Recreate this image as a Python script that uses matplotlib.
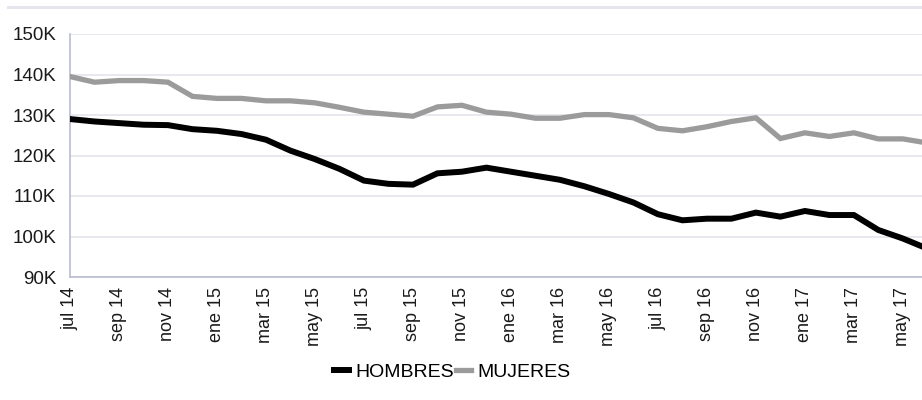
import matplotlib
matplotlib.use("Agg")
import matplotlib.pyplot as plt
from matplotlib.lines import Line2D

plt.rcParams['font.family'] = ['Liberation Sans', 'DejaVu Sans']

months = ["jul 14", "ago 14", "sep 14", "oct 14", "nov 14", "dic 14",
          "ene 15", "feb 15", "mar 15", "abr 15", "may 15", "jun 15",
          "jul 15", "ago 15", "sep 15", "oct 15", "nov 15", "dic 15",
          "ene 16", "feb 16", "mar 16", "abr 16", "may 16", "jun 16",
          "jul 16", "ago 16", "sep 16", "oct 16", "nov 16", "dic 16",
          "ene 17", "feb 17", "mar 17", "abr 17", "may 17", "jun 17"]

hombres = [129.0, 128.4, 128.0, 127.6, 127.5, 126.5,
           126.1, 125.3, 123.9, 121.2, 119.1, 116.7,
           113.8, 113.0, 112.8, 115.6, 116.0, 117.0,
           116.0, 115.0, 114.0, 112.4, 110.5, 108.4,
           105.5, 104.0, 104.4, 104.4, 105.9, 104.9,
           106.3, 105.3, 105.3, 101.6, 99.5, 97.0]

mujeres = [139.5, 138.1, 138.5, 138.5, 138.1, 134.6,
           134.1, 134.1, 133.5, 133.5, 133.0, 131.9,
           130.7, 130.2, 129.7, 132.0, 132.4, 130.7,
           130.2, 129.2, 129.2, 130.1, 130.1, 129.3,
           126.7, 126.1, 127.1, 128.4, 129.3, 124.2,
           125.6, 124.7, 125.6, 124.1, 124.1, 123.1]

yticks = [90, 100, 110, 120, 130, 140, 150]
ytick_labels = ["90K", "100K", "110K", "120K", "130K", "140K", "150K"]

fig = plt.figure(figsize=(9.22, 4.0), dpi=100)
ax = fig.add_axes([70/922, 1 - 277/400, 1 - 70/922, (277 - 34)/400])

x = list(range(len(months)))
ax.plot(x, mujeres, color='#9b9b9b', lw=3.8, solid_joinstyle='miter', label='MUJERES', zorder=3)
ax.plot(x, hombres, color='#000000', lw=4.3, solid_joinstyle='miter', label='HOMBRES', zorder=4)

ax.set_xlim(0, 34.78)
ax.set_ylim(90, 150)
ax.set_yticks(yticks)
ax.set_yticklabels(ytick_labels, fontsize=13.5, color='#1a1a1a')
ax.set_xticks(x[::2])
ax.set_xticklabels(months[::2], rotation=90, fontsize=13, color='#1a1a1a')
ax.tick_params(axis='both', length=0)
ax.tick_params(axis='y', pad=10)
ax.tick_params(axis='x', pad=7)

ax.grid(axis='y', color='#e4e4ec', lw=1.2, zorder=0)
for s in ['top', 'right']:
    ax.spines[s].set_visible(False)
for s in ['left', 'bottom']:
    ax.spines[s].set_color('#b8bccf')
    ax.spines[s].set_linewidth(1.2)

# chart border top
fig.add_artist(Line2D([8/922, 1], [1 - 7/400, 1 - 7/400], color='#e6e6ee', lw=2.2,
                      transform=fig.transFigure))

handles = [Line2D([], [], color='#000000', lw=4.3), Line2D([], [], color='#9b9b9b', lw=3.8)]
fig.legend(handles, ['HOMBRES', 'MUJERES'], loc='center', bbox_to_anchor=(452/922, 1 - 372/400),
           ncol=2, frameon=False, fontsize=14, handlelength=0.8, handletextpad=0.3,
           columnspacing=0.1)

fig.savefig('out.png', dpi=100)
